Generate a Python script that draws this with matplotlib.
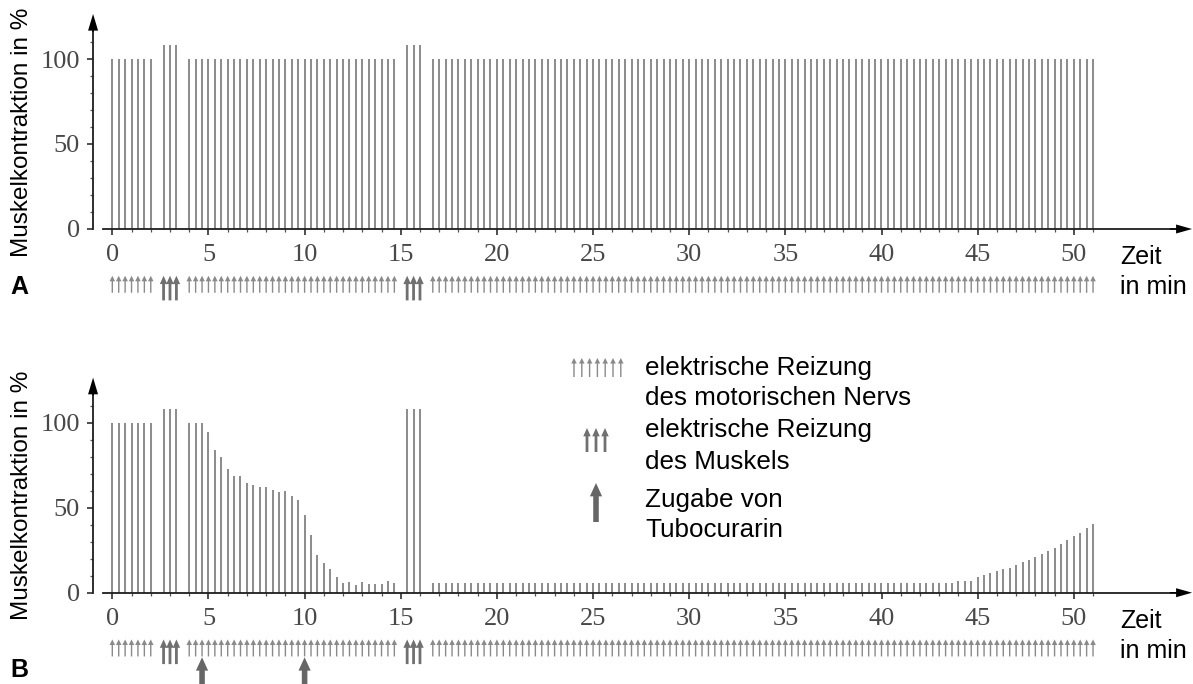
import numpy as np
import matplotlib.pyplot as plt

plt.rcParams['font.family'] = ['Liberation Sans', 'DejaVu Sans']

# Reize alle 20 s (1/3 min)
STEP = 1 / 3
nerve_blocks = [(0, 2), (4, 44 / 3), (50 / 3, 51)]      # Reizung des Nervs (Start, Ende)
muscle_times = [8 / 3, 3, 10 / 3, 46 / 3, 47 / 3, 16]  # Reizung des Muskels
tubo_times = [14 / 3, 10]                               # Zugabe von Tubocurarin

# A: ohne Tubocurarin
a_nerve_level = 100
a_muscle = [108, 108, 108, 108, 108, 108]

# B: mit Tubocurarin
b_block1 = [100, 100, 100, 100, 100, 100, 100]
b_block2 = [100, 100, 100, 94.7, 83.9, 79.9, 72.8, 68.5, 68.5, 64.4, 63.6,
            62.4, 62.4, 60.4, 59.3, 60.0, 56.7, 54.7, 45.9, 33.7, 22.0, 17.7,
            14.0, 9.1, 5.9, 6.3, 4.5, 6.3, 4.9, 4.9, 4.9, 7.1, 5.5]
b_block3 = [5.7] * 82 + [7.1, 7.1, 7.1,
                         9.1, 10.6, 11.8, 12.6, 13.8, 14.6, 16.1, 18.1, 19.3,
                         20.9, 22.8, 24.4, 26.4, 28.9, 30.9, 33.1, 35.4, 37.8, 40.6]
b_muscle = [108, 108, 108, 108, 108, 108]

xticks = [0, 5, 10, 15, 20, 25, 30, 35, 40, 45, 50]
yticks = [0, 50, 100]

nerve_times = np.concatenate([np.arange(s, e + 0.01, STEP) for s, e in nerve_blocks])
a_nerve = np.full(len(nerve_times), a_nerve_level)
b_nerve = np.array(b_block1 + b_block2 + b_block3)

W, H = 1193, 684
PX_MIN = 19.23   # Pixel pro Minute
PX_PCT = 1.7     # Pixel pro Prozent
X0 = 112.3       # Pixel-Lage von t = 0

BAR = '#8e8e8e'
AXC = '#1e1e1e'
THIN = ('#8a8a8a', 4.0, 4.0, 1.0)     # Farbe, Kopflänge, Kopfbreite, Schaft (pt)
THICK = ('#707070', 6.0, 5.4, 2.0)
TUBO = ('#666666', 9.6, 8.8, 4.0)

fig = plt.figure(figsize=(W / 100, H / 100), dpi=100)


def pfig(x, y):
    return x / W, 1 - y / H


def arrow(ax, x, y0, y1, style, coords='data'):
    color, hl, hw, tw = style
    ax.annotate('', xy=(x, y1), xytext=(x, y0), xycoords=coords, textcoords=coords,
                arrowprops=dict(arrowstyle=f'simple,head_length={hl},head_width={hw},tail_width={tw}',
                                color=color, lw=0, shrinkA=0, shrinkB=0, mutation_scale=1),
                annotation_clip=False)


def panel(top, bottom, zero, nerve, muscle):
    ax = fig.add_axes([0, 1 - bottom / H, 1, (bottom - top) / H])
    ax.set_xlim(-X0 / PX_MIN, (W - X0) / PX_MIN)
    ax.set_ylim(-(bottom - zero) / PX_PCT, (zero - top) / PX_PCT)
    ax.patch.set_alpha(0)

    ax.vlines(nerve_times, 0, nerve, colors=BAR, lw=1.45)
    ax.vlines(muscle_times, 0, muscle, colors=BAR, lw=1.45)

    for s in ['top', 'right']:
        ax.spines[s].set_visible(False)
    ax.spines['left'].set_position(('data', -1))
    ax.spines['left'].set_bounds(0, 118)
    ax.spines['bottom'].set_position(('data', 0))
    ax.spines['bottom'].set_bounds(-0.47, 55.5)
    for s in ['left', 'bottom']:
        ax.spines[s].set_color(AXC)
        ax.spines[s].set_linewidth(1.3)

    ax.set_xticks(xticks)
    ax.set_xticks(np.arange(0, 52, 1), minor=True)
    ax.set_yticks(yticks)
    ax.set_yticks(np.arange(10, 121, 10), minor=True)
    ax.tick_params(which='major', direction='out', length=4.5, width=1.1, color=AXC,
                   labelsize=19, labelcolor='#484848')
    ax.tick_params(which='minor', direction='out', length=2.3, width=0.9, color='#555555')
    ax.tick_params(axis='x', pad=6.5)
    ax.tick_params(axis='y', pad=5)
    for lab in ax.get_xticklabels() + ax.get_yticklabels():
        lab.set_fontfamily(['Liberation Serif', 'DejaVu Serif'])

    # Pfeilspitzen der Achsen
    ax.annotate('', xy=(-1, 126.5), xytext=(-1, 116), annotation_clip=False,
                arrowprops=dict(arrowstyle='simple,head_length=12,head_width=7.2,tail_width=1',
                                color='black', lw=0, shrinkA=0, shrinkB=0, mutation_scale=1))
    ax.annotate('', xy=(56.15, 0), xytext=(55, 0), annotation_clip=False,
                arrowprops=dict(arrowstyle='simple,head_length=11.5,head_width=6.5,tail_width=1',
                                color='black', lw=0, shrinkA=0, shrinkB=0, mutation_scale=1))

    # Reizpfeile unter der Achse
    for t in nerve_times:
        arrow(ax, t, -37.5, -27.5, THIN)
    for t in muscle_times:
        arrow(ax, t, -42, -27.5, THICK)
    return ax


ax_a = panel(0, 340, 229, a_nerve, a_muscle)
ax_b = panel(342, 684, 592.7, b_nerve, b_muscle)

for t in tubo_times:
    arrow(ax_b, t, -62, -38, TUBO)

# Beschriftungen
for zero in [229, 592.7]:
    fig.text(*pfig(22, zero - 97), 'Muskelkontraktion in %', rotation=90,
             ha='center', va='center', fontsize=17.5)
    fig.text(*pfig(1120, zero + 35), 'Zeit', ha='left', va='baseline', fontsize=18)
    fig.text(*pfig(1120, zero + 65), 'in min', ha='left', va='baseline', fontsize=18)
fig.text(*pfig(19, 287.5), 'A', ha='center', va='center', fontsize=18, fontweight='bold')
fig.text(*pfig(19, 670), 'B', ha='center', va='center', fontsize=18, fontweight='bold')

# Legende
for i in range(7):
    arrow(ax_b, 574 + 7.8 * i, H - 377, H - 358, THIN, coords='figure pixels')
for i in range(3):
    arrow(ax_b, 587 + 9 * i, H - 452, H - 428, THICK, coords='figure pixels')
arrow(ax_b, 596, H - 522, H - 483, TUBO, coords='figure pixels')

legend_lines = [('elektrische Reizung', 375), ('des motorischen Nervs', 405),
                ('elektrische Reizung', 437), ('des Muskels', 469),
                ('Zugabe von', 507), ('Tubocurarin', 537)]
for txt, y in legend_lines:
    fig.text(*pfig(645, y), txt, ha='left', va='baseline', fontsize=18.7)

fig.savefig('out.png', dpi=100)
